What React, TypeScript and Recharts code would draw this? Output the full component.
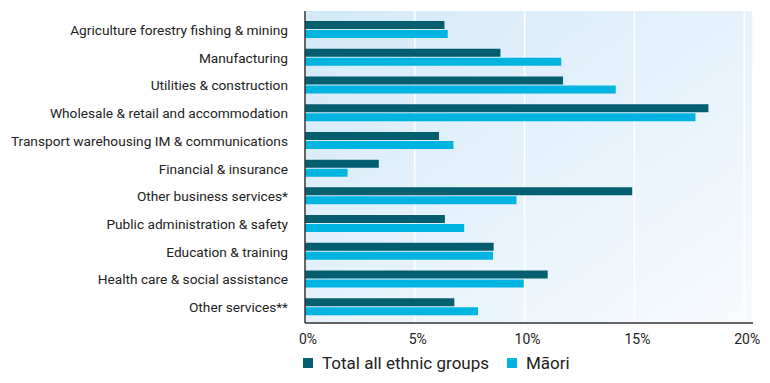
import React from 'react';
import { BarChart, Bar, XAxis, YAxis, CartesianGrid, Legend } from 'recharts';

const categories = [
  'Agriculture forestry fishing & mining',
  'Manufacturing',
  'Utilities & construction',
  'Wholesale & retail and accommodation',
  'Transport warehousing IM & communications',
  'Financial & insurance',
  'Other business services*',
  'Public administration & safety',
  'Education & training',
  'Health care & social assistance',
  'Other services**',
];

const totalAll = [6.35, 8.9, 11.75, 18.37, 6.1, 3.36, 14.9, 6.37, 8.59, 11.05, 6.8];
const maori = [6.5, 11.67, 14.15, 17.78, 6.76, 1.94, 9.63, 7.25, 8.56, 9.96, 7.88];

const xTicks = [0, 5, 10, 15, 20];

const DARK = '#035e70';
const LIGHT = '#00b4e2';
const FONT = 'Roboto, "Noto Sans", sans-serif';

const data = categories.map((name, i) => ({ name, total: totalAll[i], maori: maori[i] }));

const CategoryTick = (props: any) => {
  const { x, y, payload } = props;
  return (
    <text x={x} y={y} dy={5} textAnchor="end" fill="#222" fontSize={13.7} fontFamily={FONT}>
      {payload.value}
    </text>
  );
};

const LegendContent = () => (
  <div style={{ display: 'flex', alignItems: 'center', height: 28, marginLeft: 295, fontFamily: FONT, fontSize: 17, color: '#222' }}>
    <span style={{ width: 10, height: 10, background: DARK, display: 'inline-block', marginRight: 9 }} />
    <span style={{ marginRight: 18 }}>Total all ethnic groups</span>
    <span style={{ width: 10, height: 10, background: LIGHT, display: 'inline-block', marginRight: 9 }} />
    <span>Māori</span>
  </div>
);

const App: React.FC = () => {
  return (
    <div style={{ position: 'relative', left: -8, width: 770, height: 375 }}>
      <svg width={0} height={0} style={{ position: 'absolute' }}>
        <defs>
          <linearGradient id="plotBg" x1="0" y1="0" x2="1" y2="1">
            <stop offset="0%" stopColor="#d3e9f8" />
            <stop offset="100%" stopColor="#f8fbfe" />
          </linearGradient>
        </defs>
      </svg>
      <BarChart
        width={770}
        height={375}
        data={data}
        layout="vertical"
        margin={{ top: 3, right: 17, bottom: 6, left: 8 }}
        barSize={8}
        barGap={1}
      >
        <CartesianGrid horizontal={false} stroke="#ffffff" strokeWidth={1.5} fill="url(#plotBg)" fillOpacity={1} />
        <XAxis
          type="number"
          domain={[0, 20.4]}
          ticks={xTicks}
          tickFormatter={(v: number) => `${v}%`}
          height={26}
          axisLine={{ stroke: '#333', strokeWidth: 1.5 }}
          tickLine={false}
          tickMargin={5}
          dx={3}
          tick={{ fill: '#222', fontSize: 14, fontFamily: FONT }}
        />
        <YAxis
          type="category"
          dataKey="name"
          width={297}
          padding={{ top: 5, bottom: 2 }}
          axisLine={{ stroke: '#333', strokeWidth: 1.5 }}
          tickLine={false}
          tickMargin={11}
          interval={0}
          tick={<CategoryTick />}
        />
        <Legend verticalAlign="bottom" align="left" height={28} content={<LegendContent />} />
        <Bar dataKey="total" name="Total all ethnic groups" fill={DARK} isAnimationActive={false} />
        <Bar dataKey="maori" name="Māori" fill={LIGHT} isAnimationActive={false} />
      </BarChart>
    </div>
  );
};

export default App;
